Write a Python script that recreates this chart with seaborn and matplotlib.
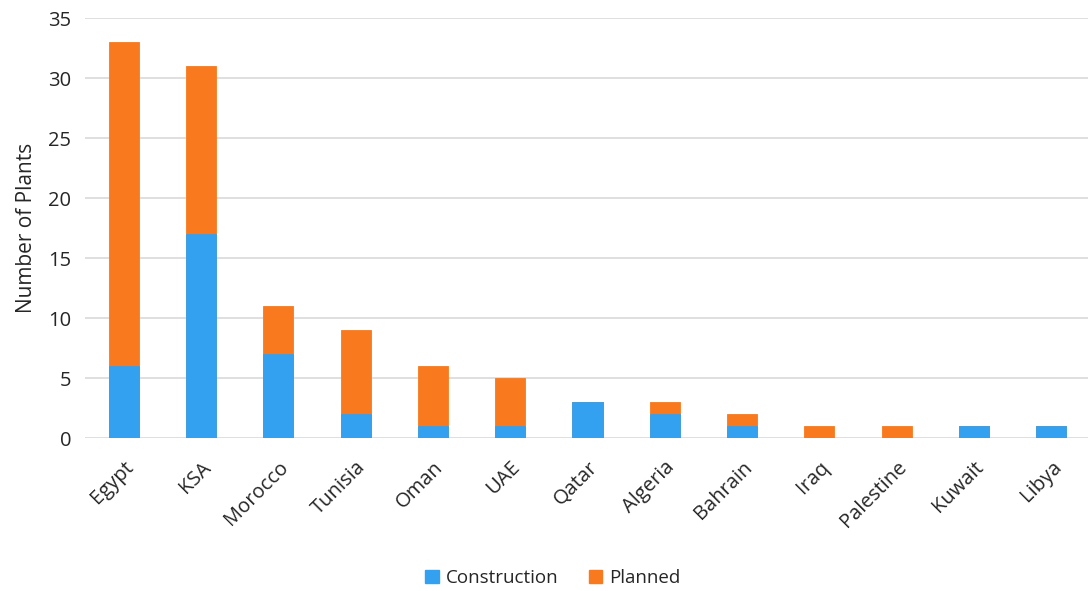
import matplotlib
matplotlib.use("Agg")
import matplotlib.pyplot as plt
import seaborn as sns
import pandas as pd
from matplotlib.patches import Patch

countries = ["Egypt", "KSA", "Morocco", "Tunisia", "Oman", "UAE", "Qatar",
             "Algeria", "Bahrain", "Iraq", "Palestine", "Kuwait", "Libya"]
construction = [6, 17, 7, 2, 1, 1, 3, 2, 1, 0, 0, 1, 1]
planned = [27, 14, 4, 7, 5, 4, 0, 1, 1, 1, 1, 0, 0]

blue = "#33A1F0"
orange = "#F97A1E"

sns.set_theme(style="white")
plt.rcParams["font.family"] = ["Open Sans", "DejaVu Sans"]

df = pd.DataFrame({
    "country": countries,
    "construction": construction,
    "planned": planned,
})
df["total"] = df["construction"] + df["planned"]

fig = plt.figure(figsize=(10.88, 5.91), dpi=100)
ax = fig.add_axes([85 / 1088, 1 - 438 / 591, 1005 / 1088, 420 / 591])

# stacked bars: full height in orange, construction share drawn over it in blue
sns.barplot(data=df, x="country", y="total", color=orange, width=0.39,
            saturation=1, ax=ax, edgecolor=orange, linewidth=0.6, zorder=3)
sns.barplot(data=df, x="country", y="construction", color=blue, width=0.39,
            saturation=1, ax=ax, edgecolor=blue, linewidth=0.6, zorder=4)

ax.set_ylim(0, 35)
ax.set_yticks(range(0, 36, 5))
ax.set_xlim(-0.5, len(countries) - 0.5)
ax.yaxis.grid(True, color="#D9D9D9", linewidth=1.2, zorder=0)
ax.set_axisbelow(True)
for s in ax.spines.values():
    s.set_visible(False)

ax.tick_params(axis="y", labelsize=14.5, colors="#262626", length=0, pad=10)
ax.tick_params(axis="x", labelsize=14.5, colors="#262626", length=0, pad=14)
plt.setp(ax.get_xticklabels(), rotation=45, ha="right", rotation_mode="anchor")
ax.set_xlabel("")
ax.set_ylabel("Number of Plants", fontsize=15, color="#262626", labelpad=8)

handles = [Patch(facecolor=blue, edgecolor=blue, label="Construction"),
           Patch(facecolor=orange, edgecolor=orange, label="Planned")]
fig.legend(handles=handles, loc="center", bbox_to_anchor=(553 / 1088, 1 - 578 / 591),
           ncol=2, frameon=False, fontsize=13.5, handlelength=0.7, handleheight=0.7,
           handletextpad=0.4, columnspacing=1.6, labelcolor="#262626")

fig.savefig("out.png", dpi=100)
